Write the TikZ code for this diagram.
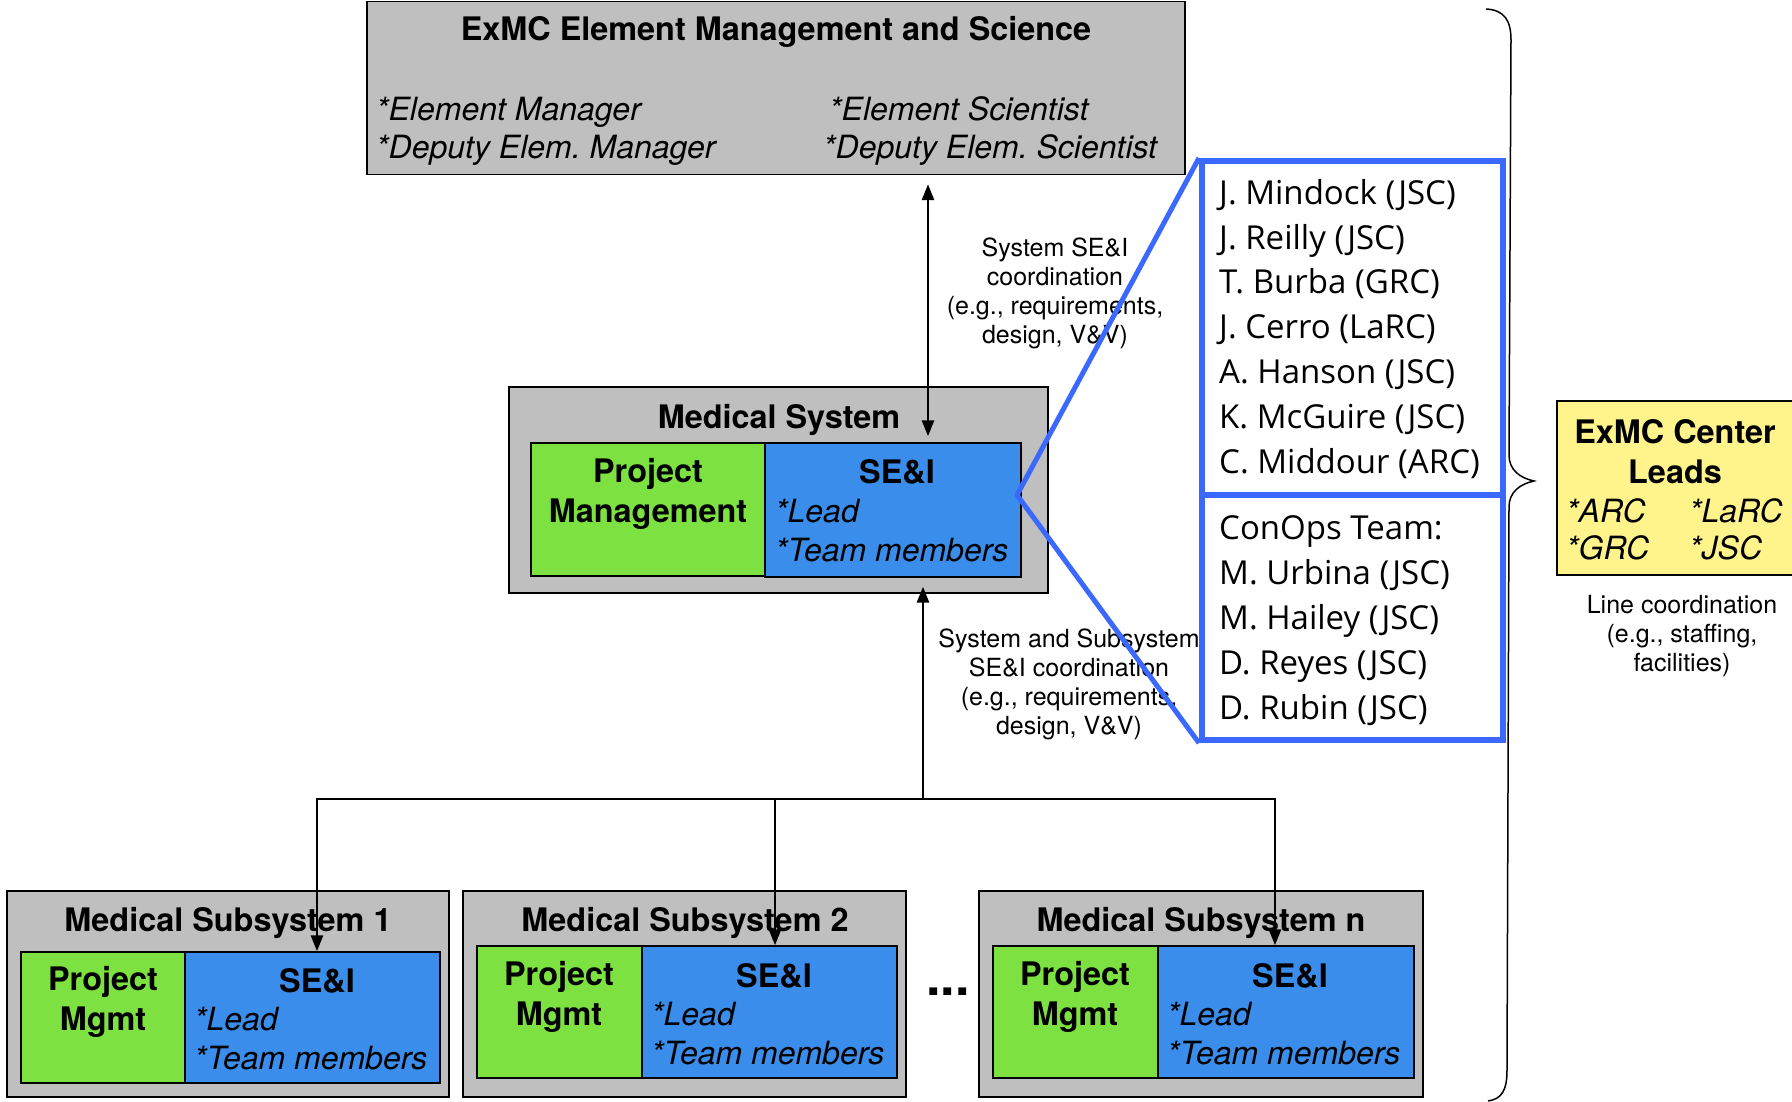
\documentclass[tikz,border=0pt]{standalone}
\usepackage{fontspec}
\setmainfont{TeX Gyre Heros}
\newfontfamily\teamfam{Open Sans}
\usetikzlibrary{arrows.meta}

\definecolor{boxgray}{RGB}{191,191,191}
\definecolor{pmgreen}{RGB}{125,225,65}
\definecolor{seblue}{RGB}{58,141,234}
\definecolor{zoomblue}{RGB}{59,104,255}
\definecolor{leadyellow}{RGB}{255,244,140}

\begin{document}
\begin{tikzpicture}[x=1pt, y=-1pt,
every node/.style = {inner sep=0pt},
 box/.style args = {#1/#2/#3}{%
      draw=black, line width=1.4pt, fill=#1,
      minimum width=#2, minimum height=#3},
 boxtitle/.style = {font=\fontsize{32.4}{40}\selectfont\bfseries,
      anchor=base, align=center},
 boxitem/.style  = {font=\fontsize{32}{39}\selectfont\itshape,
      anchor=base west},
 notetext/.style = {font=\fontsize{25}{29}\selectfont,
      anchor=base, align=center},
 teamlist/.style = {font=\fontsize{33}{44.8}\selectfont\teamfam,
      anchor=base west, align=left},
 link/.style     = {draw=black, line width=2.8pt},
 arrowed/.style  = {-{Triangle[length=16pt,width=12pt]}},
 zoomline/.style = {draw=zoomblue, line width=5pt, line join=round}
                    ]
\useasboundingbox (0,0) rectangle (1792,1101);
 % element management and science
\node (elem)    [box=boxgray/818pt/173pt] at (776,88) {};
\node (elemttl) [boxtitle] at (776,40) {ExMC Element Management and Science};
\node (mgr)     [boxitem]  at (376,120) {*Element Manager};
\node (dmgr)    [boxitem]  at (376,158) {*Deputy Elem.\ Manager};
\node (sci)     [boxitem]  at (829,120) {*Element Scientist};
\node (dsci)    [boxitem]  at (823,158) {*Deputy Elem.\ Scientist};
 % medical system
\node (sys)     [box=boxgray/539pt/206pt] at (778.5,490) {};
\node (syspm)   [box=pmgreen/234pt/133pt] at (648,509.5) {};
\node (sysse)   [box=seblue/256pt/134pt]  at (893,510) {};
\node (systtl)  [boxtitle] at (779,428) {Medical System};
\node (syspmt)  [boxtitle] at (648,522) {Project\\Management};
\node (sysset)  [boxtitle] at (897,483) {SE\&I};
\node (syslead) [boxitem]  at (775,522) {*Lead};
\node (systeam) [boxitem]  at (775,561) {*Team members};
 % subsystems
\node (sub1)    [box=boxgray/442pt/206pt] at (228,994) {};
\node (s1pm)    [box=pmgreen/164pt/131pt] at (103,1017.5) {};
\node (s1se)    [box=seblue/255pt/131pt]  at (312.5,1017.5) {};
\node (s1ttl)   [boxtitle] at (228,931) {Medical Subsystem 1};
\node (s1pmt)   [boxtitle] at (103,1030) {Project\\Mgmt};
\node (s1set)   [boxtitle] at (317,992) {SE\&I};
\node (s1lead)  [boxitem]  at (194,1030) {*Lead};
\node (s1team)  [boxitem]  at (194,1069) {*Team members};

\node (sub2)    [box=boxgray/443pt/206pt] at (684.5,994) {};
\node (s2pm)    [box=pmgreen/165pt/132pt] at (559.5,1012) {};
\node (s2se)    [box=seblue/255pt/132pt]  at (769.5,1012) {};
\node (s2ttl)   [boxtitle] at (685,931) {Medical Subsystem 2};
\node (s2pmt)   [boxtitle] at (559,1025) {Project\\Mgmt};
\node (s2set)   [boxtitle] at (774,987) {SE\&I};
\node (s2lead)  [boxitem]  at (651,1025) {*Lead};
\node (s2team)  [boxitem]  at (651,1064) {*Team members};

\node (dots)    [font=\fontsize{52}{52}\selectfont\bfseries, anchor=base]
                at (948,995) {...};

\node (subn)    [box=boxgray/444pt/206pt] at (1201,994) {};
\node (snpm)    [box=pmgreen/165pt/132pt] at (1075.5,1012) {};
\node (snse)    [box=seblue/256pt/132pt]  at (1286,1012) {};
\node (snttl)   [boxtitle] at (1201,931) {Medical Subsystem n};
\node (snpmt)   [boxtitle] at (1075,1025) {Project\\Mgmt};
\node (snset)   [boxtitle] at (1290,987) {SE\&I};
\node (snlead)  [boxitem]  at (1167,1025) {*Lead};
\node (snteam)  [boxitem]  at (1167,1064) {*Team members};
 % coordination notes
\node (sysnote) [notetext] at (1055,343)
      {System SE\&I\\coordination\\(e.g., requirements,\\design, V\&V)};
\node (subnote) [notetext] at (1069,734)
      {System and Subsystem\\SE\&I coordination\\(e.g., requirements,\\design, V\&V)};
 % arrows
\coordinate (upx)  at (928,0);
\coordinate (bus)  at (923,799);
\coordinate (bus1) at (317,799);
\coordinate (bus2) at (775,799);
\coordinate (busn) at (1275,799);
\draw[link, {Triangle[length=16pt,width=12pt]}-{Triangle[length=16pt,width=12pt]},
      shorten <=9pt, shorten >=6pt] (upx |- elem.south) -- (upx |- sysse.north);
\draw[link, arrowed, shorten >=9pt] (bus) -- (bus |- sysse.south);
\draw[link, arrowed] (bus) -- (bus1) -- (bus1 |- s1se.north);
\draw[link, arrowed] (bus) -- (busn) -- (busn |- snse.north);
\draw[link, arrowed] (bus2) -- (bus2 |- s2se.north);
 % SE&I team
\node (team)    [draw=zoomblue, line width=6pt, fill=white,
                 minimum width=301pt, minimum height=334pt] at (1352.5,328) {};
\node (conops)  [draw=zoomblue, line width=6pt, fill=white,
                 minimum width=301pt, minimum height=245pt] at (1352.5,617.5) {};
\node (names)   [teamlist] at (1219,473)
      {J. Mindock (JSC)\\J. Reilly (JSC)\\T. Burba (GRC)\\J. Cerro (LaRC)\\%
       A. Hanson (JSC)\\K. McGuire (JSC)\\C. Middour (ARC)};
\node (cnames)  [teamlist] at (1219,719)
      {ConOps Team:\\M. Urbina (JSC)\\M. Hailey (JSC)\\D. Reyes (JSC)\\D. Rubin (JSC)};
\coordinate (apex) at (1017,495);
\draw[zoomline] (team.north west) -- (apex) -- (conops.south west);
 % center leads
\draw[line width=1.5pt] (1486,9) .. controls (1504,10) and (1511,20) .. (1511,40)
      -- (1509,455) .. controls (1509,470) and (1520,478) .. (1534,481)
      .. controls (1520,484) and (1509,492) .. (1509,507)
      -- (1507,1070) .. controls (1507,1090) and (1502,1099) .. (1488,1101);
\node (leads)   [box=leadyellow/240pt/174pt] at (1677,488) {};
\node (leadttl) [boxtitle] at (1675,483) {ExMC Center\\Leads};
\node (arc)     [boxitem]  at (1566,522) {*ARC};
\node (larc)    [boxitem]  at (1689,522) {*LaRC};
\node (grc)     [boxitem]  at (1566,559) {*GRC};
\node (jsc)     [boxitem]  at (1689,559) {*JSC};
\node (linenote)[notetext] at (1682,671)
      {Line coordination\\(e.g., staffing,\\facilities)};
\end{tikzpicture}
\end{document}
